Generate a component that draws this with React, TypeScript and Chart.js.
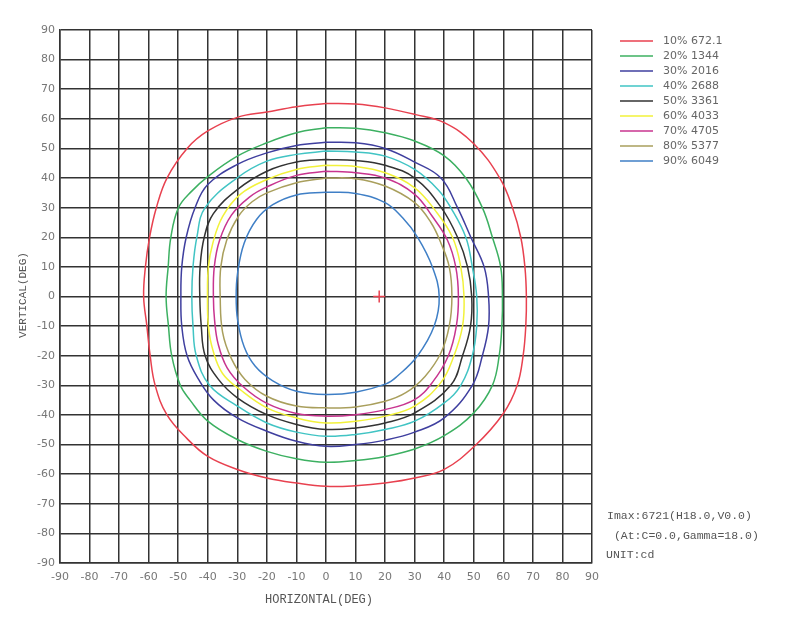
import React, { useEffect, useRef } from 'react';
import { Chart, registerables } from 'chart.js';
Chart.register(...registerables);

const levelLabels = ['10%', '20%', '30%', '40%', '50%', '60%', '70%', '80%', '90%'];
const levelValues = ['672.1', '1344', '2016', '2688', '3361', '4033', '4705', '5377', '6049'];
const levelColors = ['#e8414f', '#3cb061', '#3f3f9f', '#41c4c4', '#333333', '#f2f23a', '#c8348f', '#a99f5c', '#3f7fc6'];

const c10: [number, number][] = [
  [0, 65.2], [10, 65], [20, 63.7], [30, 61.5], [40, 58.7], [50, 51.6], [58.8, 40], [63.1, 30], [65.9, 20], [67.3, 10], [67.8, 0],
  [67.6, -10], [66.7, -20], [64.7, -30], [60, -39.5], [50.5, -50.3], [40, -58.4], [30, -61.3], [20, -63], [10, -63.9], [0, -64.1],
  [-10, -63], [-20, -61.3], [-30, -58.4], [-40, -54], [-47, -48], [-53.8, -40], [-57.8, -30], [-59.5, -20], [-60.6, -10], [-61.7, 0],
  [-61.1, 10], [-59.7, 20], [-57.4, 30], [-53.8, 40], [-47, 50], [-40, 55.9], [-30, 60.5], [-20, 62.3], [-10, 64.1], [0, 65.2],
];
const c20: [number, number][] = [
  [0, 57], [10, 56.8], [20, 55.3], [30, 52.5], [40, 47.5], [47.3, 40], [52.9, 30], [56.3, 20], [59.1, 10], [59.7, 0],
  [59.5, -10], [58.6, -20], [56.3, -30], [50, -39.3], [40, -47], [30, -51.5], [20, -54], [10, -55.4], [0, -56],
  [-10, -54.8], [-20, -52.3], [-30, -48.3], [-40, -42.1], [-46, -35], [-49.3, -30], [-52.2, -20], [-53.3, -10], [-54.1, 0],
  [-53.4, 10], [-52.5, 20], [-49.9, 30], [-45.5, 35.5], [-40, 40.5], [-30, 47.4], [-20, 51.9], [-10, 55.3], [0, 57],
];
const c30: [number, number][] = [
  [0, 52.1], [10, 51.9], [20, 50], [30, 45.4], [38.9, 40], [44.5, 30], [49, 20], [53.5, 10], [55, 0],
  [55, -10], [52.9, -20], [49.5, -30], [40, -41], [30, -45.8], [20, -48.5], [10, -50], [0, -50.6],
  [-10, -48.9], [-20, -45.5], [-30, -41], [-38, -35], [-43.1, -28], [-47, -20], [-48.8, -10], [-49.1, 0],
  [-48.8, 10], [-47.3, 20], [-44.3, 30], [-40, 37.8], [-30, 44.6], [-20, 48.5], [-10, 51], [0, 52.1],
];
const c40: [number, number][] = [
  [0, 49.1], [10, 48.8], [20, 47.4], [30, 42.9], [38, 36], [42.2, 30], [47.3, 20], [49.5, 10], [51, 0],
  [51, -10], [49.5, -20], [45.6, -30], [40, -35.9], [30, -42.1], [20, -44.9], [10, -46.6], [0, -47.2],
  [-10, -45.8], [-20, -42.7], [-30, -37], [-39.4, -30], [-43.9, -20], [-45, -10], [-45.4, 0],
  [-45, 10], [-43.7, 20], [-40.9, 30], [-30, 40.1], [-20, 45.7], [-10, 48], [0, 49.1],
];
const c50: [number, number][] = [
  [0, 46.3], [10, 45.9], [20, 44.3], [30, 40], [39, 30], [44.5, 20], [47.9, 10], [49.3, 0],
  [48.9, -10], [46.2, -20], [42.2, -30], [30, -39.3], [20, -42.7], [10, -44.4], [0, -44.9],
  [-10, -43.2], [-20, -39.9], [-30, -34.2], [-36.4, -28], [-40.9, -20], [-42.2, -10], [-42.7, 0],
  [-42.6, 10], [-41.2, 20], [-38.1, 28], [-30, 36.1], [-20, 42.3], [-10, 45.4], [0, 46.3],
];
const c60: [number, number][] = [
  [0, 44.3], [10, 43.9], [20, 41.8], [30, 36.7], [37, 29], [42.8, 20], [45.6, 10], [46.7, 0],
  [46.2, -10], [43.3, -20], [38.9, -29], [30, -37], [20, -40.4], [10, -42.1], [0, -42.7],
  [-10, -41], [-20, -37.6], [-29, -31.5], [-35, -26], [-38.3, -18], [-39.8, -10], [-40.1, 0],
  [-39.8, 10], [-38.3, 18], [-35, 27], [-29, 34.5], [-20, 39.5], [-10, 42.9], [0, 44.3],
];
const c70: [number, number][] = [
  [0, 42.3], [10, 41.8], [20, 40], [30, 34.5], [36, 27], [41.1, 19], [43.9, 10], [44.8, 0],
  [44.1, -10], [41.4, -20], [36, -29], [30, -34.8], [20, -38.2], [10, -39.9], [0, -40.4],
  [-10, -39.5], [-20, -36.1], [-28, -30.5], [-33.5, -24], [-36.5, -16], [-37.7, -8], [-38.1, 0],
  [-37.8, 10], [-36, 19], [-32, 27.5], [-26, 33.5], [-20, 37], [-10, 40.9], [0, 42.3],
];
const c80: [number, number][] = [
  [0, 40], [10, 39.8], [20, 37.3], [30, 31.7], [35.5, 25], [38.9, 18], [41.7, 10], [42.6, 0],
  [41.7, -10], [38.9, -19], [33.5, -27], [27, -32.5], [20, -35.4], [10, -37.3], [0, -37.6],
  [-10, -37], [-20, -33.7], [-27.4, -28], [-32, -21], [-35, -12], [-35.8, 0],
  [-35.6, 10], [-33.6, 19], [-29.7, 27], [-25, 32], [-20, 35], [-10, 38.4], [0, 40],
];
const c90: [number, number][] = [
  [0, 35.2], [10, 34.8], [20, 31.7], [26, 26.5], [31, 20], [36, 10], [38.3, 0],
  [36.6, -10], [31, -20], [24, -27], [20.3, -29.5], [10, -32.3], [0, -33.1],
  [-10, -32], [-18, -28.5], [-24, -23.5], [-27.7, -17], [-29.9, -8], [-30.4, 0],
  [-29.9, 8], [-27.7, 18], [-23.5, 26], [-18, 31], [-10, 34.3], [0, 35.2],
];
const contours = [c10, c20, c30, c40, c50, c60, c70, c80, c90];

const peakPoint = { x: 18, y: 0 };
const infoLines = ['Imax:6721(H18.0,V0.0)', ' (At:C=0.0,Gamma=18.0)', 'UNIT:cd'];
const xTitle = 'HORIZONTAL(DEG)';
const yTitle = 'VERTICAL(DEG)';

const overlayPlugin = {
  id: 'overlay',
  afterDraw(chart: any) {
    const ctx = chart.ctx;
    ctx.save();
    ctx.font = '11px "DejaVu Sans"';
    ctx.textBaseline = 'middle';
    ctx.textAlign = 'left';
    levelLabels.forEach((lab, i) => {
      const y = 41 + i * 15;
      ctx.strokeStyle = levelColors[i];
      ctx.lineWidth = 1.5;
      ctx.beginPath();
      ctx.moveTo(620, y);
      ctx.lineTo(653, y);
      ctx.stroke();
      ctx.fillStyle = '#666';
      ctx.fillText(lab + ' ' + levelValues[i], 663, y);
    });
    ctx.font = '11.5px "Liberation Mono"';
    ctx.fillStyle = '#555';
    ctx.fillText(infoLines[0], 607, 516);
    ctx.fillText(infoLines[1], 607, 536);
    ctx.fillText(infoLines[2], 606, 555);
    ctx.textAlign = 'center';
    ctx.font = '12px "Liberation Mono"';
    ctx.fillText(xTitle, 319, 600);
    ctx.translate(23, 295);
    ctx.rotate(-Math.PI / 2);
    ctx.font = '11px "Liberation Mono"';
    ctx.fillText(yTitle, 0, 0);
    ctx.restore();
  },
};

export default function App() {
  const ref = useRef<HTMLCanvasElement>(null);
  useEffect(() => {
    const datasets: any[] = contours.map((pts, i) => ({
      label: levelLabels[i],
      data: pts.map(([x, y]) => ({ x, y })),
      showLine: true,
      borderColor: levelColors[i],
      backgroundColor: levelColors[i],
      borderWidth: 1.5,
      pointRadius: 0,
      tension: 0.4,
      fill: false,
    }));
    datasets.push({
      label: 'peak',
      data: [peakPoint],
      showLine: false,
      pointStyle: 'cross',
      pointRadius: 6,
      borderColor: '#e8414f',
      borderWidth: 1.5,
    });
    const chart = new Chart(ref.current!, {
      type: 'scatter',
      data: { datasets },
      options: {
        animation: false,
        responsive: false,
        layout: { padding: { top: 30, right: 197, left: 0, bottom: 0 } },
        plugins: { legend: { display: false }, tooltip: { enabled: false } },
        scales: {
          x: {
            type: 'linear',
            min: -90,
            max: 90,
            afterFit: (s: any) => { s.height = 60; },
            ticks: { stepSize: 10, color: '#777', font: { family: 'DejaVu Sans', size: 11 }, padding: 8, maxRotation: 0, autoSkip: false },
            grid: { color: '#333', lineWidth: 1.5, drawTicks: false },
            border: { color: '#333', width: 1.5 },
          },
          y: {
            type: 'linear',
            min: -90,
            max: 90,
            afterFit: (s: any) => { s.width = 60; },
            ticks: { stepSize: 10, color: '#777', font: { family: 'DejaVu Sans', size: 11 }, padding: 5, autoSkip: false },
            grid: { color: '#333', lineWidth: 1.5, drawTicks: false },
            border: { color: '#333', width: 1.5 },
          },
        },
      },
      plugins: [overlayPlugin],
    });
    return () => chart.destroy();
  }, []);
  return (
    <div style={{ position: 'fixed', left: 0, top: 0, width: 789, height: 623, background: '#fff' }}>
      <canvas ref={ref} width={789} height={623} />
    </div>
  );
}
